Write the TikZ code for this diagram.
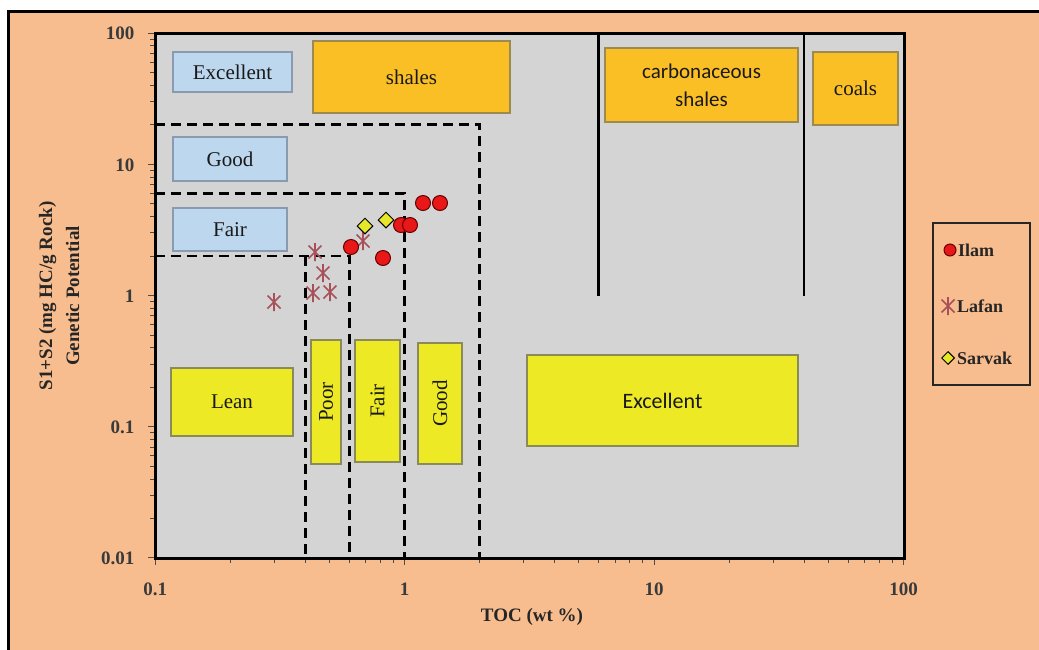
\documentclass[tikz,border=0pt]{standalone}
\usepackage{fontspec}
\setmainfont{Liberation Serif}
\newfontfamily\calib{Carlito}
\usetikzlibrary{shapes.geometric}
\definecolor{bgorange}{HTML}{F8BD8E}
\definecolor{plotgray}{HTML}{D4D4D4}
\definecolor{boxblue}{HTML}{BDD7EE}
\definecolor{boxblueedge}{HTML}{8A9BB0}
\definecolor{boxorange}{HTML}{FBBF26}
\definecolor{boxorangeedge}{HTML}{9C8A50}
\definecolor{boxyellow}{HTML}{EDE924}
\definecolor{boxyellowedge}{HTML}{8A8A5A}
\definecolor{ilamred}{HTML}{E81818}
\definecolor{lafancol}{HTML}{A8505A}
\definecolor{sarvakyellow}{HTML}{E6E62A}
\definecolor{labelgray}{HTML}{3A3A3A}
\begin{document}
\begin{tikzpicture}[x=1pt,y=-1pt,
  declare function={X(\v)=155+249.5*(log10(\v)+1); Y(\v)=558-131.25*(log10(\v)+2);},
  zone/.style={draw, line width=1.2pt, inner sep=0pt, text=black!90,
    font=\fontsize{21}{28}\selectfont, align=center},
  bluebox/.style={zone, fill=boxblue, draw=boxblueedge},
  orangebox/.style={zone, fill=boxorange, draw=boxorangeedge},
  yellowbox/.style={zone, fill=boxyellow, draw=boxyellowedge},
  divide/.style={line width=2.8pt, dash pattern=on 10pt off 6pt},
  ticklabel/.style={font=\bfseries\fontsize{19}{22}\selectfont, text=labelgray},
  axislabel/.style={font=\bfseries\fontsize{19}{27}\selectfont, text=black!85, align=center},
  legendlabel/.style={font=\bfseries\fontsize{18}{22}\selectfont, text=black!85, anchor=west, inner sep=0pt},
  ilam/.style={circle, fill=ilamred, draw=black!60!red, line width=1pt, minimum size=15pt, inner sep=0pt},
  sarvak/.style={diamond, fill=sarvakyellow, draw=black, line width=1pt, minimum size=16pt, inner sep=0pt},
  lafan/.pic={\draw[lafancol, line width=1.7pt] (-6.5,-6.5)--(6.5,6.5) (-6.5,6.5)--(6.5,-6.5) (0,-9)--(0,9);}
  ]
\useasboundingbox (0,0) rectangle (1039,649);
\clip (0,0) rectangle (1039,649);
% page background and framed chart area
\fill[white] (0,0) rectangle (1039,649);
\filldraw[fill=bgorange, draw=black, line width=3pt] (8,11) rectangle (1060,670);

% plot area
\fill[plotgray] (155,33) rectangle (904,558);

% minor and major ticks (log axes)
\foreach \d in {0,1,2} {
  \foreach \k in {2,...,9}
    \draw[black!70, line width=0.8pt] ({155+249.5*(\d+log10(\k))},558) -- ++(0,5);
}
\foreach \d in {0,1,2,3} {
  \foreach \k in {2,...,9}
    \draw[black!70, line width=0.8pt] (155,{558-131.25*(\d+log10(\k))}) -- ++(-5,0);
}
\foreach \v in {0.1,1,10,100}
  \draw[black!70, line width=1pt] ({X(\v)},558) -- ++(0,7);
\foreach \v in {0.01,0.1,1,10,100}
  \draw[black!70, line width=1pt] (155,{Y(\v)}) -- ++(-7,0);

% boundaries of the organic-richness classes
\draw[line width=2.4pt] ({X(6)},33) -- ({X(6)},{Y(1)});
\draw[line width=2.4pt] ({X(40)},33) -- ({X(40)},{Y(1)});
\draw[divide] ({X(0.1)},{Y(20)}) -- ({X(2)},{Y(20)}) -- ({X(2)},558);
\draw[divide] ({X(0.1)},{Y(6)}) -- ({X(1)},{Y(6)}) -- ({X(1)},558);
\draw[divide] ({X(0.1)},{Y(2)}) -- ({X(0.6)},{Y(2)}) -- ({X(0.6)},558);
\draw[divide] ({X(0.4)},{Y(2)}) -- ({X(0.4)},558);

% class boxes
\node[bluebox, minimum width=119, minimum height=40] (pexc) at (232.5,72) {Excellent};
\node[bluebox, minimum width=114, minimum height=44] (pgood) at (230,159) {Good};
\node[bluebox, minimum width=114, minimum height=43] (pfair) at (230,229.5) {Fair};
\node[orangebox, minimum width=197, minimum height=72] (shales) at (411.5,77) {shales};
\node[orangebox, minimum width=193, minimum height=74, font=\calib\fontsize{21}{28}\selectfont] (carb) at (701.5,85) {carbonaceous\\shales};
\node[orangebox, minimum width=85, minimum height=73] (coals) at (855.5,88.5) {coals};
\node[yellowbox, minimum width=122, minimum height=68] (lean) at (232,402) {Lean};
\node[yellowbox, rotate=90, minimum width=124, minimum height=30] (poor) at (326,402) {Poor};
\node[yellowbox, rotate=90, minimum width=122, minimum height=45] (tfair) at (377.5,401) {Fair};
\node[yellowbox, rotate=90, minimum width=121, minimum height=44] (tgood) at (440,403.5) {Good};
\node[yellowbox, minimum width=271, minimum height=91, font=\calib\fontsize{22}{26}\selectfont] (texc) at (662.5,400.5) {Excellent};

% axis frame
\draw[line width=3pt] (155,33) rectangle (904,558);

% tick labels
\node[ticklabel, anchor=east] (y100) at (138,33) {100};
\node[ticklabel, anchor=east] (y10) at (138,165) {10};
\node[ticklabel, anchor=east] (y1) at (138,296) {1};
\node[ticklabel, anchor=east] (y01) at (138,427) {0.1};
\node[ticklabel, anchor=east] (y001) at (138,558) {0.01};
\node[ticklabel] (x01) at ({X(0.1)},589) {0.1};
\node[ticklabel] (x1) at ({X(1)},589) {1};
\node[ticklabel] (x10) at ({X(10)},589) {10};
\node[ticklabel] (x100) at ({X(100)},589) {100};

% axis titles
\node[axislabel] (xtitle) at (532,617) {TOC (wt \%)};
\node[axislabel, rotate=90] (ytitle) at (59,296) {S1+S2 (mg HC/g Rock)\\Genetic Potential};

% Lafan samples
\foreach \px/\py in {363/241, 315/252, 323/273, 313/293, 330/292, 274/302}
  \pic at (\px,\py) {lafan};
% Sarvak samples
\node[sarvak] (s1) at (365,226) {};
\node[sarvak] (s2) at (386,220) {};
% Ilam samples
\node[ilam] (i1) at (351,247) {};
\node[ilam] (i2) at (383,258) {};
\node[ilam] (i3) at (401,225) {};
\node[ilam] (i4) at (410,225) {};
\node[ilam] (i5) at (423,203) {};
\node[ilam] (i6) at (440,203) {};

% legend
\node[draw=black!85, line width=1.5pt, minimum width=97, minimum height=162, inner sep=0pt] (legend) at (981.5,304) {};
\node[ilam, minimum size=12pt] (li) at (950,250) {};
\node[legendlabel] (lit) at (958,250) {Ilam};
\pic at (948,306) {lafan};
\node[legendlabel] (llt) at (957,306) {Lafan};
\node[sarvak, minimum size=13pt] (ls) at (948,358) {};
\node[legendlabel] (lst) at (957,358) {Sarvak};
\end{tikzpicture}
\end{document}
